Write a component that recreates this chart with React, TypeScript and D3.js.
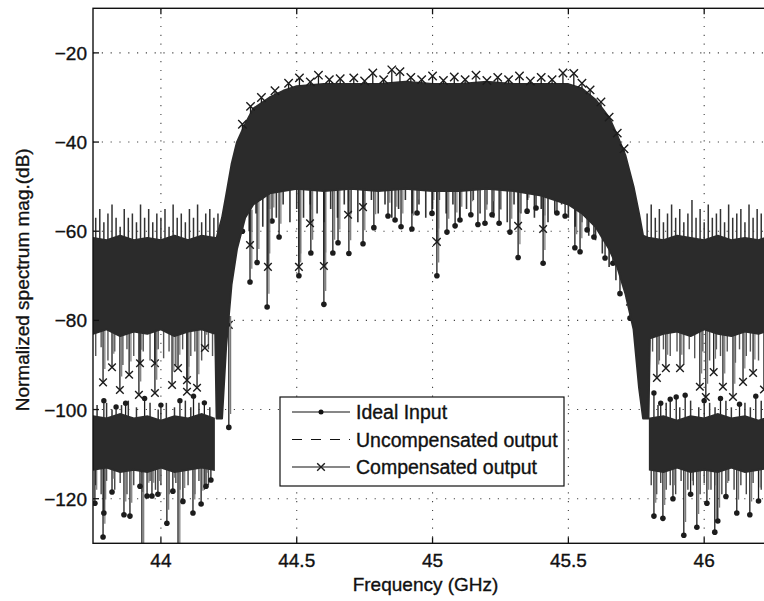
import React from 'react';
import * as d3 from 'd3';

// ---------- axes ----------
const xTicks = [44, 44.5, 45, 45.5, 46];
const yTicks = [-120, -100, -80, -60, -40, -20];
const legendLabels = ['Ideal Input', 'Uncompensated output', 'Compensated output'];

// ---------- dense output band envelope (GHz, dB) ----------
const bandFreq = [43.75, 43.80, 43.85, 43.90, 43.95, 44.00, 44.05, 44.10, 44.15, 44.20,
  44.205, 44.225, 44.24, 44.26, 44.28, 44.31, 44.34,
  44.40, 44.45, 44.50,
  44.60, 44.70, 44.80, 44.90, 45.00, 45.10, 45.20, 45.30, 45.40, 45.50,
  45.55, 45.60, 45.65, 45.68, 45.71, 45.74, 45.76, 45.775, 45.795,
  45.80, 45.85, 45.90, 45.95, 46.00, 46.05, 46.10, 46.15, 46.20, 46.25];
const bandTop = [-61.5, -62, -61, -62, -61.5, -62, -61, -62, -61, -61.5,
  -61.5, -57, -52, -45, -40, -36, -32.5,
  -30, -28.5, -27.5,
  -27, -27, -27, -26.5, -27, -27, -26.5, -27, -27, -27,
  -28, -30.5, -34.5, -38.5, -43, -50, -56, -61, -61.5,
  -61.5, -62, -61, -61.5, -62, -61, -62, -61.5, -62, -61];
const bandBottom = [-83, -82, -83.5, -82.5, -83, -82, -83.5, -82.5, -82, -83,
  -102, -102, -86, -72, -64, -57, -54,
  -51.5, -51, -50.5,
  -51, -50.5, -51, -50.5, -51, -51, -50.5, -51, -52, -54,
  -56, -59, -64, -68, -74, -82, -95, -102, -102,
  -84, -83, -82.5, -83.5, -82, -83, -83.5, -82.5, -83, -82];

// ---------- ideal input floor (out of band) ----------
const idealLeftFreq = [43.75, 43.80, 43.85, 43.90, 43.95, 44.00, 44.05, 44.10, 44.15, 44.195];
const idealLeftTop = [-101.5, -102, -101, -102, -101.5, -102.5, -101.5, -102, -101, -102];
const idealLeftBottom = [-113.5, -113, -114, -113.5, -114, -113, -114, -113.5, -113, -113.5];
const idealRightFreq = [45.80, 45.85, 45.90, 45.95, 46.00, 46.05, 46.10, 46.15, 46.20, 46.25];
const idealRightTop = [-102, -101.5, -102.5, -101.5, -102, -101, -102, -101.5, -102.5, -101.5];
const idealRightBottom = [-113.5, -114, -113, -114, -113.5, -114, -113, -114, -113.5, -113];

// ---------- fine excursions (no marker) ----------
const outCombUp: [number, number][] = [
  [43.76, -57], [43.775, -55], [43.79, -58], [43.805, -56], [43.82, -54], [43.835, -57], [43.85, -59],
  [43.865, -55], [43.88, -57], [43.895, -56], [43.91, -58], [43.925, -54], [43.94, -57], [43.955, -55],
  [43.97, -58], [43.985, -56], [44.0, -57], [44.015, -55], [44.03, -59], [44.045, -54], [44.06, -57],
  [44.075, -56], [44.09, -58], [44.105, -55], [44.12, -57], [44.135, -54], [44.15, -58], [44.165, -56],
  [44.18, -55], [44.195, -57], [44.21, -56],
  [45.79, -56], [45.805, -54], [45.82, -57], [45.835, -55], [45.85, -58], [45.865, -56], [45.88, -54],
  [45.895, -57], [45.91, -55], [45.925, -58], [45.94, -56], [45.955, -53], [45.97, -57], [45.985, -55],
  [46.0, -58], [46.015, -54], [46.03, -57], [46.045, -56], [46.06, -55], [46.075, -58], [46.09, -54],
  [46.105, -57], [46.12, -56], [46.135, -55], [46.15, -58], [46.165, -54], [46.18, -57], [46.195, -55],
  [46.21, -56], [46.225, -58], [46.24, -55]];
const outCombDown: [number, number][] = [
  [43.76, -88], [43.78, -86], [43.805, -89], [43.83, -87], [43.86, -90], [43.875, -86.5], [43.9, -88],
  [43.935, -87], [43.96, -89], [43.99, -86.5], [44.01, -88.5], [44.03, -87], [44.055, -90], [44.08, -86.5],
  [44.11, -88], [44.125, -87], [44.15, -89], [44.175, -86.5], [44.19, -88],
  [45.81, -87], [45.835, -89], [45.85, -86.5], [45.875, -88], [45.9, -87], [45.925, -90], [45.945, -86.5],
  [45.965, -88.5], [45.995, -87], [46.02, -89], [46.045, -86.5], [46.06, -88], [46.085, -87], [46.115, -89.5],
  [46.13, -86.5], [46.155, -88], [46.17, -87], [46.2, -89], [46.23, -86.5], [46.245, -88]];
const idealCombDown: [number, number][] = [
  [43.76, -117], [43.78, -119], [43.80, -116], [43.83, -118], [43.85, -116.5], [43.875, -119], [43.90, -117],
  [43.935, -118.5], [43.96, -116], [43.98, -118], [44.00, -117], [44.03, -119], [44.055, -116.5], [44.07, -118],
  [44.10, -117], [44.125, -119], [44.14, -116], [44.16, -118], [44.175, -117],
  [45.805, -117], [45.825, -119], [45.84, -116.5], [45.86, -118], [45.875, -117], [45.895, -119], [45.915, -116],
  [45.94, -118], [45.96, -117], [45.985, -119], [46.0, -116.5], [46.025, -118], [46.045, -117], [46.065, -119],
  [46.09, -116], [46.11, -118], [46.135, -117], [46.155, -119], [46.18, -116.5], [46.21, -118], [46.24, -117]];
const idealCombUp: [number, number][] = [
  [43.765, -99], [43.80, -98.5], [43.82, -100], [43.855, -99], [43.88, -98], [43.91, -99.5], [43.96, -98.5],
  [43.99, -100], [44.02, -98.5], [44.05, -99.5], [44.09, -98], [44.11, -99.5], [44.14, -98.5], [44.18, -99.5],
  [45.83, -99], [45.86, -98.5], [45.91, -99.5], [45.95, -98], [45.98, -99.5], [46.02, -98.5], [46.04, -99.5],
  [46.08, -98], [46.1, -99.5], [46.15, -98.5], [46.17, -99.5], [46.21, -98], [46.23, -99.5]];
const inBandFringe: [number, number][] = [
  [44.30, -58], [44.325, -60], [44.35, -56], [44.375, -59], [44.40, -55], [44.425, -57], [44.45, -54],
  [44.475, -58], [44.50, -55], [44.525, -57], [44.55, -54], [44.575, -56], [44.60, -58], [44.625, -55],
  [44.65, -57], [44.675, -54], [44.70, -56], [44.725, -58], [44.75, -55], [44.775, -53], [44.80, -56],
  [44.825, -54], [44.85, -57], [44.875, -55], [44.90, -53], [44.925, -56], [44.95, -54], [44.975, -57],
  [45.00, -55], [45.025, -53], [45.05, -56], [45.075, -54], [45.10, -57], [45.125, -55], [45.15, -53],
  [45.175, -56], [45.20, -54], [45.225, -57], [45.25, -55], [45.275, -58], [45.30, -54], [45.325, -56],
  [45.35, -53], [45.375, -57], [45.40, -55], [45.425, -58], [45.45, -56], [45.475, -54], [45.50, -57],
  [45.525, -59], [45.55, -58], [45.575, -61], [45.60, -62], [45.625, -65], [45.65, -68], [45.675, -71]];

// ---------- marked excursions ----------
const compOut: [number, number][] = [
  [43.787, -93.9], [43.82, -90.5], [43.849, -95.6], [43.883, -92.2], [43.919, -96.7], [43.923, -89.6],
  [43.978, -89.6], [43.978, -96.3], [44.041, -94.5], [44.063, -90.7], [44.096, -93.4], [44.096, -96],
  [44.133, -95.1], [44.162, -86.2], [44.25, -81],
  [45.826, -92.9], [45.859, -90.7], [45.911, -90.7], [45.984, -94.9], [46.006, -97.2], [46.035, -91.6],
  [46.069, -94.9], [46.106, -97.2], [46.143, -93.8], [46.18, -91.8], [46.22, -95.5]];
const idealDownLeft: [number, number][] = [
  [43.757, -121], [43.787, -128.6], [43.79, -123.2], [43.82, -118.5], [43.864, -123.6], [43.886, -123.9],
  [43.923, -117.2], [43.93, -136], [43.949, -119.4], [43.967, -119.4], [43.989, -119], [44.022, -125.5],
  [44.044, -118.3], [44.063, -136], [44.081, -120.6], [44.118, -123.2], [44.148, -121.2], [44.166, -117.2],
  [44.184, -115.8]];
const idealDownRight: [number, number][] = [
  [45.815, -123.9], [45.848, -124.4], [45.885, -120], [45.925, -128.2], [45.95, -119], [45.973, -126.4],
  [46.01, -121], [46.039, -127.5], [46.05, -125], [46.08, -119.5], [46.12, -123.2], [46.168, -123.6],
  [46.2, -120.5], [46.235, -122]];
const idealUpLeft: [number, number][] = [
  [43.79, -98], [43.835, -99.4], [43.87, -98.6], [43.94, -97.5], [44.0, -99], [44.07, -98], [44.12, -97], [44.16, -98.5]];
const idealUpRight: [number, number][] = [
  [45.815, -96.3], [45.84, -98.6], [45.875, -97.7], [45.897, -97.2], [45.93, -96.8], [46.0, -98],
  [46.06, -97.5], [46.13, -98.8], [46.19, -97]];
const idealIn: [number, number][] = [
  [44.25, -104], [44.27, -62], [44.3, -60], [44.328, -71.4], [44.354, -67], [44.391, -77], [44.409, -57.7],
  [44.435, -61.3], [44.508, -70], [44.552, -64.9], [44.6, -76.4], [44.633, -64.9], [44.652, -62.6],
  [44.692, -65], [44.744, -62.8], [44.784, -59.2], [44.836, -56.6], [44.862, -57.5], [44.884, -59],
  [44.924, -59.5], [44.943, -55.9], [44.998, -56], [45.016, -70], [45.053, -60.2], [45.083, -58.8],
  [45.101, -57.5], [45.141, -56.3], [45.167, -58.5], [45.193, -58.2], [45.219, -56.3], [45.245, -58.2],
  [45.285, -60.2], [45.315, -65.9], [45.348, -55.5], [45.381, -54.8], [45.407, -67.2], [45.458, -55.9],
  [45.488, -56.6], [45.524, -63.7], [45.543, -64.6], [45.569, -59.7], [45.594, -61.3], [45.635, -66],
  [45.664, -67.2], [45.69, -74], [45.727, -79.5]];
const compIn: [number, number][] = [
  [44.328, -63.1], [44.394, -68], [44.508, -68], [44.549, -58.2], [44.6, -67.8], [44.689, -56.3],
  [44.744, -54.6], [45.016, -62.4], [45.315, -58.8], [45.407, -59.5], [45.727, -75.8]];
const compTop: [number, number][] = [
  [44.30, -36], [44.33, -32], [44.37, -30], [44.42, -28.5], [44.47, -26.8], [44.51, -25.6], [44.55, -26.5],
  [44.58, -25], [44.62, -26], [44.66, -25.8], [44.71, -25.6], [44.75, -26.3], [44.78, -24.5], [44.82, -26],
  [44.85, -23.8], [44.88, -24.2], [44.92, -25.5], [44.96, -26], [45.0, -25.2], [45.04, -26.2], [45.08, -25.4],
  [45.12, -26], [45.16, -25], [45.2, -26.2], [45.24, -25.5], [45.28, -26], [45.32, -25.2], [45.36, -26.3],
  [45.4, -25.5], [45.44, -26], [45.48, -24.5], [45.52, -24.6], [45.55, -26.8], [45.58, -28.3], [45.62, -31],
  [45.65, -34.4], [45.68, -38], [45.705, -41.5]];

// ---------- layout ----------
const W = 764, H = 601;
const L = 93, T = 8.3, R = 772.1, B = 543.3;
const FONT = '"Liberation Sans", Arial, Helvetica, sans-serif';
const INK = '#1c1c1c';
const MASS = '#2b2b2b';

const x = d3.scaleLinear().domain([43.75, 46.25]).range([L, R]);
const y = d3.scaleLinear().domain([-130, -10]).range([B, T]);
const bandBottomAt = d3.scaleLinear().domain(bandFreq).range(bandBottom);
const bandTopAt = d3.scaleLinear().domain(bandFreq).range(bandTop);
const idealBottomAt = (f: number) => (f < 45
  ? d3.scaleLinear().domain(idealLeftFreq).range(idealLeftBottom).clamp(true)(f)
  : d3.scaleLinear().domain(idealRightFreq).range(idealRightBottom).clamp(true)(f));
const idealTopAt = (f: number) => (f < 45
  ? d3.scaleLinear().domain(idealLeftFreq).range(idealLeftTop).clamp(true)(f)
  : d3.scaleLinear().domain(idealRightFreq).range(idealRightTop).clamp(true)(f));

function bandArea(f: number[], top: number[], bot: number[]) {
  return d3.area<number>()
    .x((i) => x(f[i]))
    .y0((i) => y(bot[i]))
    .y1((i) => y(top[i]))(d3.range(f.length)) || '';
}

const Xmark = ({ cx, cy, s = 3.8 }: { cx: number; cy: number; s?: number }) => (
  <path d={`M${cx - s},${cy - s}L${cx + s},${cy + s}M${cx - s},${cy + s}L${cx + s},${cy - s}`}
    stroke={INK} strokeWidth={1.4} fill="none" />
);

const comb = (pts: [number, number][], from: (f: number) => number, key: string, color = '#333', w = 1.5) =>
  pts.map(([f, v], i) => (
    <line key={key + i} x1={x(f)} x2={x(f)} y1={y(from(f))} y2={y(v)} stroke={color} strokeWidth={w} />
  ));

const stems = (pts: [number, number][], from: (f: number) => number, marker: 'dot' | 'x', key: string) =>
  pts.map(([f, v], i) => (
    <g key={key + i}>
      <line x1={x(f) + 1.8} x2={x(f) + 1.8} y1={y(from(f))} y2={y(Math.min(from(f), v + 3))} stroke="#777" strokeWidth={1.2} />
      <line x1={x(f)} x2={x(f)} y1={y(from(f))} y2={y(v)} stroke={INK} strokeWidth={1.3} />
      {marker === 'dot' ? <circle cx={x(f)} cy={y(v)} r={2.8} fill={INK} /> : <Xmark cx={x(f)} cy={y(v)} />}
    </g>
  ));

export default function App() {
  const txt = { fill: '#111', stroke: '#111', strokeWidth: 0.35 };
  return (
    <svg width={W} height={H} style={{ position: 'absolute', left: 0, top: 0, background: '#fff' }}
      fontFamily={FONT}>
      <defs>
        <clipPath id="plot"><rect x={L} y={T} width={R - L} height={B - T} /></clipPath>
      </defs>
      <rect x={0} y={0} width={W} height={H} fill="#fff" />

      {/* grid */}
      <g stroke="#444" strokeWidth={1.1} strokeDasharray="1.2,7.6">
        {xTicks.map((t) => <line key={'gx' + t} x1={x(t)} x2={x(t)} y1={T} y2={B} />)}
        {yTicks.map((t) => <line key={'gy' + t} x1={L} x2={R} y1={y(t)} y2={y(t)} />)}
      </g>

      <g clipPath="url(#plot)">
        {comb(outCombUp, bandTopAt, 'ocu')}
        {comb(outCombDown, bandBottomAt, 'ocd', '#555', 1.4)}
        {comb(idealCombUp, idealTopAt, 'icu')}
        {comb(idealCombDown, idealBottomAt, 'icd', '#444', 1.4)}
        {comb(inBandFringe, bandBottomAt, 'ibf', '#333', 1.6)}

        {stems(compOut, bandBottomAt, 'x', 'co')}
        {stems(idealDownLeft, idealBottomAt, 'dot', 'idl')}
        {stems(idealDownRight, idealBottomAt, 'dot', 'idr')}
        {idealUpLeft.concat(idealUpRight).map(([f, v], i) => (
          <g key={'iu' + i}>
            <line x1={x(f)} x2={x(f)} y1={y(idealTopAt(f))} y2={y(v)} stroke={INK} strokeWidth={1.3} />
            <circle cx={x(f)} cy={y(v)} r={2.7} fill={INK} />
          </g>
        ))}
        {stems(idealIn, bandBottomAt, 'dot', 'ii')}
        {stems(compIn, bandBottomAt, 'x', 'ci')}

        {/* dense bands */}
        <path d={bandArea(bandFreq, bandTop, bandBottom)} fill={MASS} stroke={MASS} strokeWidth={2} strokeLinejoin="round" />
        <path d={bandArea(idealLeftFreq, idealLeftTop, idealLeftBottom)} fill={MASS} stroke={MASS} strokeWidth={2} />
        <path d={bandArea(idealRightFreq, idealRightTop, idealRightBottom)} fill={MASS} stroke={MASS} strokeWidth={2} />

        {/* X markers crowning the in-band plateau */}
        {compTop.map(([f, v], i) => (
          <g key={'ct' + i}>
            <line x1={x(f)} x2={x(f)} y1={y(v)} y2={y(bandTopAt(f))} stroke={INK} strokeWidth={1.3} />
            <Xmark cx={x(f)} cy={y(v)} s={4.2} />
          </g>
        ))}
      </g>

      {/* frame */}
      <rect x={L} y={T} width={R - L} height={B - T} fill="none" stroke="#111" strokeWidth={1.4} />
      <g stroke="#111" strokeWidth={1.3}>
        {xTicks.map((t) => (
          <g key={'tx' + t}>
            <line x1={x(t)} x2={x(t)} y1={B} y2={B - 6} />
            <line x1={x(t)} x2={x(t)} y1={T} y2={T + 6} />
          </g>
        ))}
        {yTicks.map((t) => <line key={'ty' + t} x1={L} x2={L + 6} y1={y(t)} y2={y(t)} />)}
      </g>
      <g fontSize={19} {...txt}>
        {xTicks.map((t) => (
          <text key={'lx' + t} x={x(t)} y={567} textAnchor="middle">{String(t)}</text>
        ))}
        {yTicks.map((t) => (
          <text key={'ly' + t} x={87} y={y(t) + 7} textAnchor="end">{'\u2212' + Math.abs(t)}</text>
        ))}
      </g>
      <text x={(L + R) / 2 - 7} y={591} fontSize={19} textAnchor="middle" {...txt}>Frequency (GHz)</text>
      <text transform={`translate(29,${(T + B) / 2 + 4}) rotate(-90)`} fontSize={19} textAnchor="middle" {...txt}>
        Normalized spectrum mag.(dB)
      </text>

      {/* legend */}
      <g>
        <rect x={280} y={397} width={284} height={89} fill="#fff" stroke="#111" strokeWidth={1.2} />
        {legendLabels.map((lab, i) => {
          const ly = 412 + i * 27.5;
          return (
            <g key={lab}>
              <line x1={292} x2={350} y1={ly} y2={ly} stroke="#111" strokeWidth={1.1}
                strokeDasharray={i === 1 ? '10,9' : undefined} />
              {i === 0 && <circle cx={321} cy={ly} r={2.5} fill="#111" />}
              {i === 2 && <Xmark cx={321} cy={ly} s={3.8} />}
              <text x={356} y={ly + 7} fontSize={19.5} {...txt}>{lab}</text>
            </g>
          );
        })}
      </g>
    </svg>
  );
}
